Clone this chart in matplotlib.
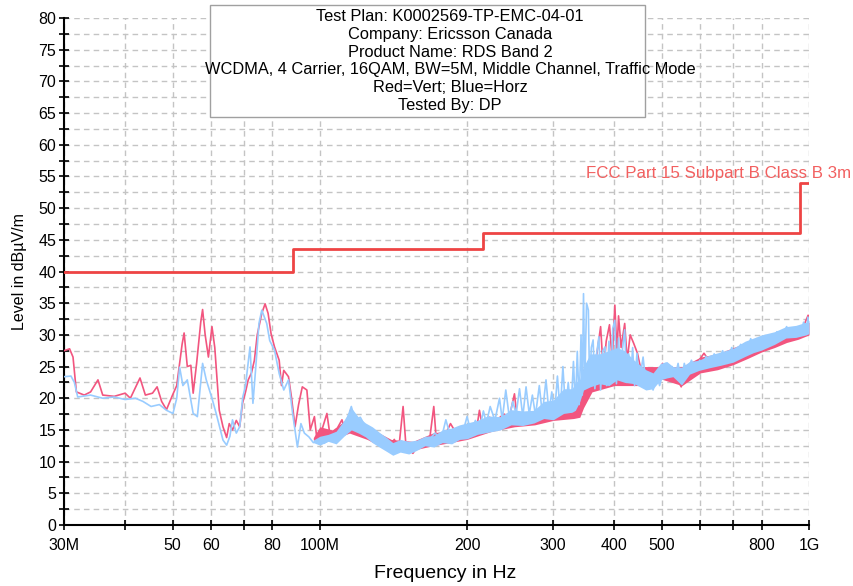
import matplotlib
matplotlib.use("Agg")
import matplotlib.pyplot as plt
from matplotlib.patches import Rectangle

plt.rcParams['font.family'] = ['Liberation Sans', 'DejaVu Sans']

# FCC Part 15 Subpart B Class B 3m limit (MHz, dBuV/m)
limit_freq = [30, 88, 88, 216, 216, 960, 960, 1000]
limit_level = [40, 40, 43.5, 43.5, 46, 46, 54, 54]

# vertical polarisation (red), peaks/dips
vert_freq = [30, 30.8, 31.3, 31.8, 33, 34, 35.2, 36, 38, 40, 41, 42.9, 44, 45.5, 46.5,
             47.5, 48.6, 50, 51, 52.3, 52.8, 53.6, 54.5, 55.1, 56, 57.1, 57.6, 58.3,
             59.2, 60.2, 61, 62.3, 63.4, 64.5, 65.3, 66.3, 67.5, 68.6, 69.5, 70.5,
             71.4, 72.5, 73.5, 74.5, 76.1, 77.3, 78.4, 79.5, 80.8, 82.6, 83.5, 84.4,
             86.3, 87.5, 89, 90.5, 92.1, 94.1, 95.6, 97.5, 98.7, 101, 103.4, 105, 107,
             109, 111, 113, 115.5, 117, 120, 123, 126, 129, 132, 135, 138, 142, 145,
             148, 150, 155, 160, 165, 168, 171, 173, 177, 181, 185, 190, 195, 200,
             205, 210, 212, 215, 222, 230, 238, 244, 250, 253, 262, 274, 285, 300,
             315, 328, 334, 340, 343, 346, 350, 354, 360, 365, 370, 375, 380, 385,
             391, 396, 401, 405, 408, 413, 420, 425, 431, 438, 446, 455, 465, 475,
             490, 502, 515, 530, 548, 565, 590, 610, 630, 660, 680, 710, 740, 782,
             810, 840, 870, 900, 940, 970, 996, 1000]
vert_level = [27.5, 27.8, 26.5, 21.0, 20.5, 21.0, 22.9, 20.5, 20.3, 20.8, 20.0, 23.2,
              20.5, 20.8, 21.8, 19.5, 18.2, 20.5, 22.0, 28.5, 30.3, 25.0, 25.2, 20.8,
              25.5, 32.0, 34.0, 30.0, 26.5, 31.3, 28.0, 18.1, 15.5, 13.8, 16.0, 15.0,
              16.5, 15.5, 19.2, 21.0, 22.9, 24.0, 26.0, 30.0, 33.4, 34.9, 33.4, 30.2,
              28.1, 26.0, 22.0, 24.4, 23.4, 20.2, 15.5, 19.0, 21.8, 21.3, 15.0, 17.1,
              13.4, 15.0, 17.6, 14.0, 13.4, 15.5, 16.6, 14.5, 18.1, 15.5, 16.0, 14.5,
              15.0, 13.9, 13.0, 12.5, 12.1, 13.5, 12.0, 18.7, 12.5, 11.3, 13.0, 12.9,
              14.0, 18.7, 13.5, 14.0, 14.4, 16.0, 14.5, 15.0, 15.5, 15.0, 16.0, 18.1,
              15.5, 17.0, 16.6, 17.5, 17.0, 20.7, 17.0, 17.5, 17.1, 17.0, 17.6, 17.5,
              18.1, 19.0, 19.2, 22.0, 24.4, 23.0, 21.3, 22.0, 25.0, 28.0, 31.3, 24.0,
              29.0, 31.6, 26.0, 34.7, 27.0, 33.0, 28.0, 31.8, 26.0, 30.0, 28.7, 27.1,
              24.0, 23.0, 23.4, 24.0, 25.5, 23.5, 24.0, 21.8, 25.0, 25.5, 27.1, 25.5,
              26.5, 25.0, 27.0, 27.5, 29.4, 28.0, 28.5, 29.5, 30.0, 30.0, 31.0, 33.1,
              32.0]

# dense noise band of the red trace (lower / upper edge)
vert_band_freq = [97, 100, 106, 115, 125, 140, 155, 170, 185, 200, 225, 250, 275,
                  300, 330, 340, 346, 360, 400, 450, 500, 550, 600, 650, 700, 750,
                  800, 850, 900, 950, 1000]
vert_band_low = [13.4, 13.0, 13.5, 14.5, 13.5, 11.5, 11.8, 12.5, 13.0, 13.5, 14.8,
                 15.5, 15.8, 16.5, 16.8, 17.0, 18.5, 21.0, 22.0, 22.0, 23.0, 22.0,
                 24.0, 24.5, 25.3, 26.3, 27.3, 28.0, 28.8, 29.3, 30.0]
vert_band_high = [13.8, 15.5, 15.0, 17.0, 15.5, 13.5, 13.2, 14.5, 15.0, 15.5, 16.5,
                  17.5, 17.6, 18.0, 18.5, 20.0, 24.0, 24.0, 26.0, 25.0, 25.0, 25.0,
                  26.5, 27.0, 28.0, 28.8, 29.5, 30.0, 31.0, 31.2, 32.0]

# horizontal polarisation (blue)
horz_freq = [30, 31, 31.5, 32, 34, 36, 38, 40, 42, 43.5, 45.2, 47, 48.6, 50.1, 51,
             51.7, 52.5, 53.6, 55.1, 56.2, 57, 57.6, 58.6, 60.2, 61.4, 63.4, 64.5,
             65.5, 66.3, 67.5, 68.6, 69.6, 70.5, 72.0, 73, 74, 75.1, 76.1, 77.9, 79,
             80.8, 82.6, 84.4, 86.3, 88, 90, 91.5, 93, 95, 97, 99.6, 102, 105, 108,
             111, 113, 116, 118, 121, 125, 129, 133, 137, 141, 146, 150, 155, 160,
             167, 172, 177, 181, 185, 190, 195, 200, 204, 208, 212, 216, 219, 223,
             228, 233, 236, 240, 244, 248, 252, 256, 260, 264, 268, 272, 276, 281,
             285, 290, 294, 298, 302, 306, 310, 314, 318, 322, 326, 330, 333, 336,
             339, 342, 344, 346, 348, 351, 354, 356, 359, 362, 365, 368, 372, 375,
             379, 383, 386, 390, 394, 397, 401, 404, 408, 412, 416, 420, 424, 428,
             432, 436, 440, 445, 450, 458, 465, 474, 480, 489, 495, 503, 510, 517,
             525, 533, 540, 548, 556, 563, 575, 585, 598, 608, 616, 628, 640, 652,
             666, 680, 695, 710, 725, 745, 760, 775, 790, 805, 820, 840, 860, 880,
             900, 920, 940, 960, 975, 988, 995, 1000]
horz_level = [23.4, 23.5, 22.5, 20.2, 20.5, 20.0, 20.2, 19.8, 20.0, 19.5, 18.7, 19.0,
              18.1, 17.6, 20.0, 24.9, 22.0, 22.9, 17.6, 17.1, 22.0, 25.5, 22.9, 20.0,
              17.6, 13.4, 12.6, 14.0, 16.6, 14.5, 15.5, 20.2, 22.0, 28.1, 19.2, 25.0,
              31.8, 33.9, 31.8, 29.1, 27.6, 23.9, 21.3, 22.9, 17.6, 12.3, 16.0, 14.5,
              13.9, 13.0, 13.4, 12.9, 13.5, 13.0, 14.0, 16.0, 18.7, 16.5, 17.0, 15.0,
              14.4, 13.0, 12.5, 11.8, 12.5, 11.5, 11.8, 12.8, 13.4, 14.5, 13.5, 16.6,
              14.0, 15.0, 13.9, 17.1, 14.5, 16.5, 15.0, 18.0, 16.0, 18.7, 16.5, 20.0,
              16.6, 21.3, 17.0, 19.5, 17.5, 21.5, 17.1, 21.8, 17.5, 20.5, 17.3, 22.0,
              17.5, 22.9, 17.8, 21.0, 17.6, 23.5, 17.8, 25.0, 18.0, 22.5, 17.8, 25.8,
              18.5, 27.4, 19.0, 30.0, 20.5, 36.5, 22.0, 35.0, 33.9, 22.5, 28.0, 29.2,
              21.5, 27.0, 29.7, 21.3, 27.5, 28.1, 22.0, 29.0, 22.5, 31.0, 32.3, 22.3,
              29.5, 23.0, 28.0, 30.8, 22.5, 27.0, 23.0, 28.0, 22.0, 27.1, 22.5, 26.5,
              21.5, 23.4, 21.3, 23.5, 22.0, 24.0, 25.5, 23.4, 25.0, 23.5, 25.5, 22.3,
              25.5, 24.0, 26.0, 24.5, 26.0, 25.0, 26.6, 25.0, 27.0, 25.5, 27.5, 25.5,
              28.0, 26.5, 28.5, 27.1, 29.4, 27.5, 29.5, 28.1, 29.7, 28.5, 30.5, 29.5,
              31.3, 29.7, 31.0, 30.0, 32.0, 30.5, 32.8, 31.5]

# dense noise band of the blue trace (lower / upper edge)
horz_band_freq = [97, 100, 104, 108, 112, 116, 120, 124, 128, 133, 137, 141, 146,
                  152, 158, 164, 171, 178, 186, 193, 200, 210, 220, 234, 246, 260,
                  274, 287, 300, 315, 328, 333, 340, 346, 357, 373, 390, 405, 420,
                  439, 464, 480, 497, 512, 527, 549, 570, 596, 625, 660, 700, 740,
                  770, 800, 850, 897, 940, 987, 1000]
horz_band_low = [13.0, 12.6, 13.2, 12.8, 14.0, 15.0, 14.5, 13.9, 13.0, 12.2, 11.6,
                 11.0, 11.5, 11.2, 11.8, 12.5, 12.3, 13.0, 12.8, 13.5, 13.6, 14.3,
                 14.6, 15.0, 15.8, 15.7, 16.1, 16.8, 16.6, 17.6, 17.8, 18.1, 19.5,
                 21.3, 21.8, 22.3, 22.0, 22.9, 22.5, 22.3, 21.3, 21.5, 22.9, 23.2,
                 23.4, 22.1, 23.8, 24.4, 24.8, 25.2, 25.7, 26.6, 27.2, 27.6, 28.5,
                 29.5, 29.6, 30.0, 30.2]
horz_band_high = [13.4, 14.0, 14.3, 14.8, 16.5, 18.5, 17.0, 16.1, 15.5, 14.5, 13.8,
                  13.0, 13.5, 13.2, 13.4, 14.0, 14.1, 15.0, 15.3, 15.8, 16.1, 16.5,
                  17.2, 17.1, 18.2, 18.0, 18.1, 19.5, 19.7, 21.5, 21.5, 22.5, 23.0,
                  25.0, 27.0, 27.0, 27.5, 28.0, 27.5, 26.0, 24.5, 24.0, 25.5, 25.8,
                  25.0, 24.9, 25.8, 26.0, 26.8, 27.3, 27.9, 29.0, 29.5, 30.0, 30.5,
                  31.3, 31.5, 32.0, 32.3]

x_major = [30, 50, 60, 80, 100, 200, 300, 400, 500, 800, 1000]
x_labels = ['30M', '50', '60', '80', '100M', '200', '300', '400', '500', '800', '1G']
x_minor = [40, 70, 600, 700]

header = ("Test Plan: K0002569-TP-EMC-04-01\n"
          "Company: Ericsson Canada\n"
          "Product Name: RDS Band 2\n"
          "WCDMA, 4 Carrier, 16QAM, BW=5M, Middle Channel, Traffic Mode\n"
          "Red=Vert; Blue=Horz\n"
          "Tested By: DP")

red = '#f2557f'
blue = '#99ccff'

fig = plt.figure(figsize=(8.54, 5.86), dpi=100)
ax = fig.add_axes([64 / 854, 61 / 586, 745 / 854, 507 / 586])

ax.fill_between(vert_band_freq, vert_band_low, vert_band_high, color=red, lw=0, zorder=2)
ax.plot(vert_freq, vert_level, color=red, lw=1.2, zorder=3)
ax.fill_between(horz_band_freq, horz_band_low, horz_band_high, color=blue, lw=0, zorder=4)
ax.plot(horz_freq, horz_level, color=blue, lw=1.2, zorder=5)
ax.plot(limit_freq, limit_level, color='#ee4444', lw=2, zorder=6)
ax.text(350, 55.4, 'FCC Part 15 Subpart B Class B 3m', color='#f26060',
        fontsize=12.2, ha='left', va='center', zorder=7, clip_on=False)

ax.set_xscale('log')
ax.set_xlim(30, 1000)
ax.set_ylim(0, 80)
ax.set_xticks(x_major)
ax.set_xticklabels(x_labels)
ax.set_xticks(x_minor, minor=True)
ax.set_xticklabels([], minor=True)
ax.set_yticks(range(0, 81, 5))
ax.set_yticks([v + 2.5 for v in range(0, 80, 5)], minor=True)

ax.grid(True, which='both', color='#c4c4c4', linestyle=(0, (4, 3)), lw=1)
ax.set_axisbelow(True)
for side in ['top', 'right']:
    ax.spines[side].set_visible(False)
ax.spines['left'].set_linewidth(1.5)
ax.spines['bottom'].set_linewidth(1.5)
ax.tick_params(which='both', direction='inout', length=7, width=1.2,
               labelsize=11.5, color='black')
ax.tick_params(axis='x', pad=6)
ax.tick_params(axis='y', pad=2)

ax.set_xlabel('Frequency in Hz', fontsize=14)
ax.xaxis.set_label_coords((445 - 64) / 745, -(565 - 525) / 507)
ax.set_ylabel('Level in dBµV/m', fontsize=11.5, labelpad=8)

fig.patches.append(Rectangle((210 / 854, 469 / 586), 435 / 854, 112 / 586,
                             transform=fig.transFigure, facecolor='white',
                             edgecolor='#a0a0a0', lw=1, zorder=10))
fig.text(450 / 854, 525 / 586, header, ha='center', va='center', fontsize=11.8,
         linespacing=1.22, zorder=11)

fig.savefig('out.png', dpi=100)
